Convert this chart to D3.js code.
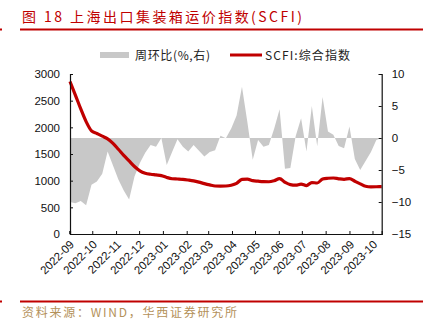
<!DOCTYPE html>
<html><head><meta charset="utf-8">
<script src="https://cdn.jsdelivr.net/npm/d3@7"></script>
<style>
html,body{margin:0;padding:0;background:#fff;}
svg{display:block;font-family:"Liberation Sans",Arial,sans-serif;}
</style></head>
<body><svg id="c" width="431" height="321"></svg>
<script>
const dates = ["2022-09-02","2022-09-09","2022-09-16","2022-09-23","2022-09-30","2022-10-07","2022-10-14","2022-10-21","2022-10-28","2022-11-04","2022-11-11","2022-11-18","2022-11-25","2022-12-02","2022-12-09","2022-12-16","2022-12-23","2022-12-30","2023-01-06","2023-01-13","2023-01-20","2023-01-27","2023-02-03","2023-02-10","2023-02-17","2023-02-24","2023-03-03","2023-03-10","2023-03-17","2023-03-24","2023-03-31","2023-04-07","2023-04-14","2023-04-21","2023-04-28","2023-05-05","2023-05-12","2023-05-19","2023-05-26","2023-06-02","2023-06-09","2023-06-16","2023-06-23","2023-06-30","2023-07-07","2023-07-14","2023-07-21","2023-07-28","2023-08-04","2023-08-11","2023-08-18","2023-08-25","2023-09-01","2023-09-08","2023-09-15","2023-09-22","2023-09-29","2023-10-06","2023-10-13"];
const scfi = [2860,2605,2346,2107,1935,1885,1835,1785,1700,1590,1475,1370,1265,1185,1140,1120,1108,1095,1060,1036,1031,1025,1012,996,972,944,920,900,898,900,915,950,1025,1030,1000,990,982,980,1000,1038,970,925,915,935,908,965,956,1030,1045,1050,1035,1025,1040,990,940,895,885,886,888];
const wow = [-10.0,-10.2,-9.85,-10.5,-7.3,-6.8,-5.6,-2.1,-4.3,-6.5,-8.2,-9.6,-6.0,-3.9,-2.3,-1.1,-1.35,0.0,-4.2,-2.2,-0.2,-1.35,-2.1,-1.1,-2.0,-2.9,-2.2,-1.9,0.35,-0.05,1.5,3.5,8.0,2.5,-3.4,-0.3,-1.35,-1.1,1.5,4.5,-4.8,-4.7,0.3,3.1,-2.1,5.0,-1.3,6.4,1.0,0.5,-1.25,-1.6,1.8,-3.3,-5.0,-3.6,-2.2,-0.3,0];
const monthTicks = ["2022-09","2022-10","2022-11","2022-12","2023-01","2023-02","2023-03","2023-04","2023-05","2023-06","2023-07","2023-08","2023-09","2023-10"];
const leftTicks = [0,500,1000,1500,2000,2500,3000];
const rightTicks = [-15,-10,-5,0,5,10];
const titleText = "图 18 上海出口集装箱运价指数(SCFI)";
const sourceText = "资料来源：WIND，华西证券研究所";
const seriesNames = ["周环比(%,右)","SCFI:综合指数"];

const parse = d3.timeParse("%Y-%m-%d");
const parseM = d3.timeParse("%Y-%m");
const data = dates.map((d,i)=>({date:parse(d), scfi:scfi[i], wow:wow[i]}));

const svg = d3.select("#c");
const L=70, R=381.7, T=74, B=234;
const x = d3.scaleTime().domain([parse(dates[0]), parse(dates[dates.length-1])]).range([L,R]);
const yL = d3.scaleLinear().domain([0,3000]).range([B,T]);
const yR = d3.scaleLinear().domain([-15,10]).range([B,T]);
const cjk = "'Noto Sans CJK SC',sans-serif";

// title
svg.append("text").attr("x",22).attr("y",22).attr("fill","#c00000")
  .attr("font-size",14).attr("font-family",cjk)
  .attr("textLength",280).attr("lengthAdjust","spacing").text(titleText);
svg.append("rect").attr("x",20).attr("y",28.5).attr("width",403).attr("height",2).attr("fill","#c00000");
svg.append("rect").attr("x",0).attr("y",28.5).attr("width",2).attr("height",2).attr("fill","#c00000");

// legend
svg.append("rect").attr("x",100).attr("y",52).attr("width",29).attr("height",6).attr("fill","#c8c8c8");
svg.append("text").attr("x",135).attr("y",59.5).attr("font-size",12).attr("fill","#222")
  .attr("font-family",cjk).attr("textLength",75).attr("lengthAdjust","spacing").text(seriesNames[0]);
svg.append("line").attr("x1",230).attr("x2",262).attr("y1",55).attr("y2",55).attr("stroke","#c00000").attr("stroke-width",3);
svg.append("text").attr("x",265).attr("y",59.5).attr("font-size",12).attr("fill","#222")
  .attr("font-family",cjk).attr("textLength",85).attr("lengthAdjust","spacing").text(seriesNames[1]);

// area
const area = d3.area().x(d=>x(d.date)).y0(yR(0)).y1(d=>yR(d.wow));
svg.append("path").datum(data).attr("d",area).attr("fill","#c8c8c8");

// line
const line = d3.line().x(d=>x(d.date)).y(d=>yL(d.scfi)).curve(d3.curveMonotoneX);
svg.append("path").datum(data).attr("d",line).attr("fill","none").attr("stroke","#c00000").attr("stroke-width",3.2).attr("stroke-linejoin","round");

// axes
const fmt = d3.format("d");
const ga = svg.append("g").attr("transform",`translate(${L},0)`)
  .call(d3.axisLeft(yL).tickValues(leftTicks).tickSize(-3).tickPadding(10).tickFormat(fmt));
const gr = svg.append("g").attr("transform",`translate(${R},0)`)
  .call(d3.axisRight(yR).tickValues(rightTicks).tickSize(-3).tickPadding(10).tickFormat(d=>d<0?"\u2212"+Math.abs(d):d));
const gb = svg.append("g").attr("transform",`translate(0,${B})`)
  .call(d3.axisBottom(x).tickValues(monthTicks.map(parseM)).tickSize(-3).tickFormat(d3.timeFormat("%Y-%m")));
[ga,gr,gb].forEach(g=>{
  g.select(".domain").attr("stroke","#111").attr("stroke-width",1.2);
  g.selectAll(".tick line").attr("stroke","#111");
  g.selectAll("text").attr("font-size",11.5).attr("fill","#111").attr("font-family","'Liberation Sans',Arial,sans-serif");
});
gb.selectAll("text").attr("text-anchor","end").attr("dy",null).attr("y",null)
  .attr("transform","translate(3,9) rotate(-45)").attr("dominant-baseline","middle");

// bottom rule and source
svg.append("rect").attr("x",20).attr("y",300.5).attr("width",403).attr("height",2).attr("fill","#c00000");
svg.append("rect").attr("x",0).attr("y",300.5).attr("width",2).attr("height",2).attr("fill","#c00000");
svg.append("text").attr("x",22).attr("y",317).attr("font-size",12).attr("fill","#b4915a")
  .attr("font-family",cjk).attr("textLength",215).attr("lengthAdjust","spacing").text(sourceText);
</script></body></html>
